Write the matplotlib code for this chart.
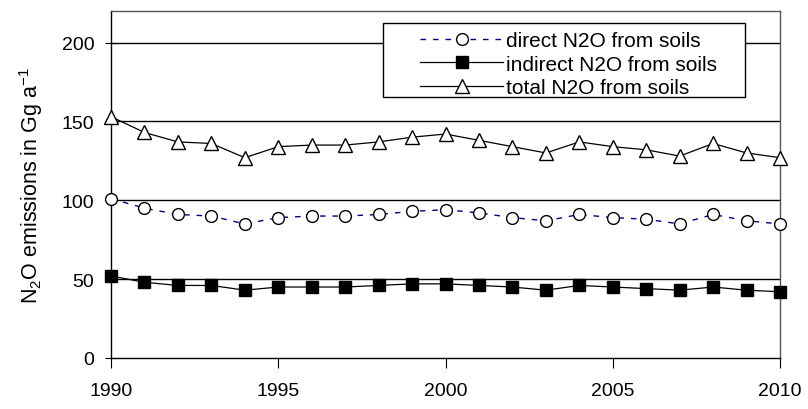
import matplotlib
matplotlib.use("Agg")
import matplotlib.pyplot as plt
from matplotlib.patches import Rectangle

plt.rcParams['font.family'] = ['Liberation Sans', 'DejaVu Sans']
plt.rcParams['mathtext.fontset'] = 'custom'
plt.rcParams['mathtext.rm'] = 'Liberation Sans'
plt.rcParams['mathtext.it'] = 'Liberation Sans'

years = list(range(1990, 2011))
direct = [101, 95, 91, 90, 85, 89, 90, 90, 91, 93, 94, 92, 89, 87, 91, 89, 88, 85, 91, 87, 85]
indirect = [52, 48, 46, 46, 43, 45, 45, 45, 46, 47, 47, 46, 45, 43, 46, 45, 44, 43, 45, 43, 42]
total = [153, 143, 137, 136, 127, 134, 135, 135, 137, 140, 142, 138, 134, 130, 137, 134, 132, 128, 136, 130, 127]
labels = ['direct N2O from soils', 'indirect N2O from soils', 'total N2O from soils']
xticks = [1990, 1995, 2000, 2005, 2010]
yticks = [0, 50, 100, 150, 200]

W, H = 808, 410
fig = plt.figure(figsize=(W / 100, H / 100), dpi=100)
ax = fig.add_axes([111 / W, 1 - 359 / H, 669 / W, 347 / H])

for y in yticks[1:]:
    ax.axhline(y, color='black', lw=1.0, zorder=1)

ax.plot(years, direct, ls=(0, (4, 5)), color='#000080', lw=1.0, marker='o', ms=8.5,
        mfc='white', mec='black', mew=1.0, label=labels[0], zorder=3, clip_on=False)
ax.plot(years, indirect, ls='-', color='black', lw=0.9, marker='s', ms=8,
        mfc='black', mec='black', label=labels[1], zorder=3, clip_on=False)
ax.plot(years, total, ls='-', color='black', lw=0.9, marker='^', ms=10,
        mfc='white', mec='black', mew=1.0, label=labels[2], zorder=3, clip_on=False)

ax.set_xlim(1990, 2010)
ax.set_ylim(0, 220)
ax.set_xticks(xticks)
ax.set_yticks(yticks)
ax.tick_params(axis='x', direction='out', length=7, labelsize=14, pad=10)
ax.tick_params(axis='y', direction='inout', length=8, labelsize=14, pad=8)
for s in ax.spines.values():
    s.set_linewidth(1.0)
    s.set_color('black')
ax.spines['top'].set_color('#555555')
ax.spines['right'].set_color('#555555')

ax.set_ylabel(r'N$_2$O emissions in Gg a$^{\mathregular{-1}}$', fontsize=15.5, labelpad=12)

# legend frame (figure pixels)
rect = Rectangle((383 / W, 1 - 98 / H), (745 - 383) / W, (98 - 24) / H,
                 transform=fig.transFigure, facecolor='white', edgecolor='black',
                 lw=1.0, zorder=4)
fig.add_artist(rect)

leg = ax.legend(loc='upper left', bbox_to_anchor=(420 / W, 1 - 32 / H),
                bbox_transform=fig.transFigure, fontsize=15,
                frameon=False, handlelength=4.0, borderpad=0, labelspacing=0.22,
                handletextpad=0.15, borderaxespad=0)
leg.set_zorder(5)
fig.add_artist(leg)

fig.savefig('out.png', dpi=100)
